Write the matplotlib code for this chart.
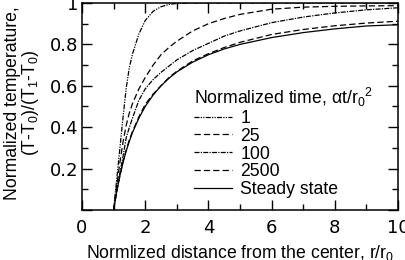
import matplotlib
matplotlib.use("Agg")
import matplotlib.pyplot as plt
from matplotlib.ticker import MultipleLocator, FuncFormatter

# tick digits in the picture are wide, so DejaVu for the ticks,
# Liberation (Arial metrics) for the labels and legend
plt.rcParams['font.family'] = ['DejaVu Sans']
plt.rcParams['mathtext.fontset'] = 'custom'
plt.rcParams['mathtext.rm'] = 'Liberation Sans'
plt.rcParams['mathtext.it'] = 'Liberation Sans:italic'
plt.rcParams['font.size'] = 13
txt = dict(family=['Liberation Sans', 'DejaVu Sans'], size=12.7)

# normalized distance r/r0
r = [1.0, 1.1, 1.2, 1.3, 1.4, 1.5, 1.6, 1.8, 2.0, 2.25, 2.5, 2.75, 3.0,
     3.5, 4.0, 4.5, 5.0, 6.0, 7.0, 8.0, 9.0, 10.0]

t1 = [0.0, 0.15, 0.30, 0.45, 0.59, 0.69, 0.755, 0.85, 0.915, 0.96, 0.982, 0.993, 0.998,
      1.0, 1.0, 1.0, 1.0, 1.0, 1.0, 1.0, 1.0, 1.0]
t25 = [0.0, 0.12, 0.23, 0.33, 0.41, 0.47, 0.515, 0.585, 0.64, 0.70, 0.75, 0.785, 0.815,
       0.865, 0.90, 0.925, 0.945, 0.97, 0.98, 0.984, 0.986, 0.987]
t100 = [0.0, 0.095, 0.18, 0.26, 0.35, 0.40, 0.445, 0.53, 0.585, 0.63, 0.665, 0.695, 0.725,
        0.77, 0.805, 0.84, 0.865, 0.905, 0.932, 0.952, 0.967, 0.977]
t2500 = [0.0, 0.09, 0.165, 0.235, 0.29, 0.34, 0.38, 0.45, 0.51, 0.56, 0.60, 0.64, 0.67,
         0.72, 0.755, 0.785, 0.81, 0.848, 0.872, 0.89, 0.903, 0.912]
steady = [0.0, 0.09, 0.167, 0.23, 0.286, 0.333, 0.375, 0.444, 0.50, 0.555, 0.60, 0.636, 0.667,
          0.714, 0.75, 0.778, 0.80, 0.833, 0.857, 0.875, 0.889, 0.895]

labels = ['1', '25', '100', '2500', 'Steady state']
series = [t1, t25, t100, t2500, steady]
styles = [(0, (4, 1, 1, 1, 1, 1)), (0, (5, 2.5)), (0, (4, 1, 1, 1)), (0, (5, 2.5)), '-']

fig = plt.figure(figsize=(4.06, 2.6), dpi=100)
ax = fig.add_axes([82/406, 50/260, 316/406, 207/260])

for y, lab, ls in zip(series, labels, styles):
    ax.plot(r, y, color='black', lw=0.9, ls=ls, label=lab)

ax.set_xlim(0, 10)
ax.set_ylim(0, 1)
ax.xaxis.set_major_locator(MultipleLocator(2))
ax.xaxis.set_minor_locator(MultipleLocator(1))
ax.yaxis.set_major_locator(MultipleLocator(0.2))
ax.yaxis.set_minor_locator(MultipleLocator(0.1))
ax.yaxis.set_major_formatter(FuncFormatter(lambda v, p: '' if v < 0.01 else ('1' if v > 0.99 else '%.1f' % v)))
ax.tick_params(which='both', direction='in', top=True, right=True, width=1.0, labelsize=13)
ax.tick_params(which='major', length=7)
ax.tick_params(which='minor', length=4.5)
ax.tick_params(axis='x', pad=6.5)
ax.tick_params(axis='y', pad=2.5)
for s in ax.spines.values():
    s.set_linewidth(1.1)

ax.set_xlabel('Normlized distance from the center, r/r$_0$', labelpad=4.5, **txt)
fig.text(13/406, 1 - 103/260, 'Normalized temperature,', rotation=90, ha='center', va='center', **txt)
fig.text(31/406, 1 - 103/260, '(T-T$_0$)/(T$_1$-T$_0$)', rotation=90, ha='center', va='center', **txt)

leg = ax.legend(loc='upper left', bbox_to_anchor=(0.356, 0.6), frameon=False,
                title='Normalized time, αt/r$_0$$^2$', alignment='left',
                prop=txt, title_fontproperties=txt,
                handlelength=2.1, handletextpad=0.5, labelspacing=0.05,
                borderpad=0, borderaxespad=0)

fig.savefig('out.png', dpi=100)
